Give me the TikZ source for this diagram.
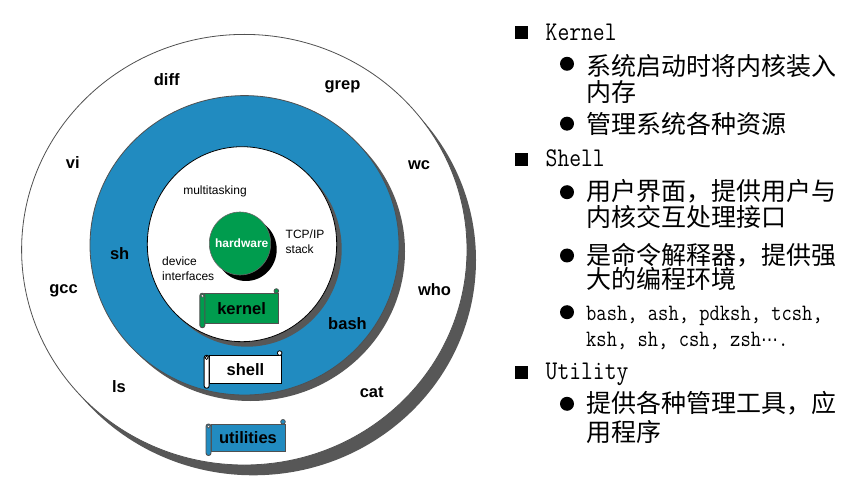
\documentclass[tikz,border=0pt]{standalone}
\usepackage{fontspec}
\usepackage{graphicx}
\setmainfont{Liberation Sans}
\newfontfamily\cjk{Noto Sans CJK SC}
\newfontfamily\symfont{DejaVu Sans}
\usetikzlibrary{calc}

\definecolor{ringblue}{RGB}{33,139,192}
\definecolor{hwgreen}{RGB}{0,156,78}
\definecolor{shadowgray}{RGB}{87,87,87}
\definecolor{edgegray}{RGB}{80,80,80}

% narrow typewriter face for the Latin words in the notes
\newcommand\notemono[1]{\ttfamily\fontsize{#1}{#1}\selectfont}
\newcommand\narrowtext[1]{\scalebox{0.85}[1]{#1}}

\tikzset{
  cmd/.style={font=\bfseries\fontsize{16.5}{18}\selectfont, inner sep=0pt, anchor=base},
  feature/.style={font=\fontsize{12}{14}\selectfont, inner sep=0pt, anchor=base west},
  sheet/.style={font=\bfseries\fontsize{16.5}{18}\selectfont, inner sep=0pt, outer sep=0pt,
                line width=0.9pt, text=black},
  head/.style={font=\notemono{27}, anchor=base west, inner sep=0pt},
  item/.style={font=\cjk\fontsize{25}{27}\selectfont, anchor=base west, inner sep=0pt},
  itemlatin/.style={font=\notemono{23.5}, anchor=base west, inner sep=0pt},
}

% a label on a small paper scroll: name, centre, width, height, paper colour, edge colour, text
\newcommand\scrollbanner[7]{%
  \node[sheet, fill=#5, draw=#6, minimum width=#3pt, minimum height=#4pt] (#1) at #2 {#7};
  \draw[fill=#5, draw=#6, line width=0.9pt, rounded corners=2.4pt]
    ($(#1.north west)+(-5,0)$) rectangle ($(#1.south west)+(0,4.5)$);
  \draw[fill=white, draw=#6, line width=0.7pt] ($(#1.north west)+(-2.5,2.6)$) circle[radius=1.6pt];
  \draw[fill=#5, draw=#6, line width=0.8pt] ($(#1.north east)+(-2,-2.2)$) circle[radius=2.3pt];
}

\begin{document}
\begin{tikzpicture}[x=1pt, y=-1pt]
\useasboundingbox (0,0) rectangle (867,486);

% utilities layer
\fill[shadowgray] (253.3,260) ellipse[x radius=222.7pt, y radius=215.3pt];
\draw[edgegray, fill=white, line width=0.8pt] (244.3,249.7) ellipse[x radius=222.7pt, y radius=215.3pt];

% shell layer
\fill[shadowgray] (250.5,251.3) ellipse[x radius=154.5pt, y radius=149.7pt];
\draw[edgegray, fill=ringblue, line width=0.8pt] (244.5,245.3) ellipse[x radius=154.5pt, y radius=149.7pt];

% kernel layer
\fill[shadowgray] (247,249.2) ellipse[x radius=94.7pt, y radius=97.5pt];
\draw[black, fill=white, line width=0.8pt] (242,244.2) ellipse[x radius=94.7pt, y radius=97.5pt];

% hardware core
\fill[black] (246,249.5) ellipse[x radius=30.7pt, y radius=31.5pt];
\draw[black!60, fill=hwgreen, line width=0.6pt] (240,243.5) ellipse[x radius=30.7pt, y radius=31.5pt];
\node[font=\bfseries\fontsize{12}{14}\selectfont, text=white, inner sep=0pt, anchor=base]
  (hardware) at (241.7,247.3) {hardware};

% kernel services
\node[feature, anchor=base] (multitasking) at (215,194.7) {multitasking};
\node[feature] (tcpip) at (285.5,238.3) {TCP/IP};
\node[feature] (stack) at (285.5,253.3) {stack};
\node[feature] (device) at (162,265.7) {device};
\node[feature] (interfaces) at (162,280.7) {interfaces};

% shells
\node[cmd] (sh) at (119.7,260) {sh};
\node[cmd] (bash) at (347.5,329.3) {bash};

% utility programs
\node[cmd] (diff) at (166.7,86) {diff};
\node[cmd] (grep) at (342.5,90) {grep};
\node[cmd] (vi) at (72.8,169) {vi};
\node[cmd] (wc) at (419,170) {wc};
\node[cmd] (gcc) at (63.5,293.3) {gcc};
\node[cmd] (who) at (434.5,295.3) {who};
\node[cmd] (ls) at (119,392.3) {ls};
\node[cmd] (cat) at (371.7,397.3) {cat};

% layer names
\scrollbanner{kernel}{(241.6,308.2)}{73.5}{30}{hwgreen}{edgegray}{kernel}
\scrollbanner{shell}{(245.4,369.5)}{72.5}{28.5}{white}{black}{shell}
\scrollbanner{utilities}{(248,437.5)}{74}{27}{ringblue}{edgegray}{utilities}

% notes
\fill (515,26) rectangle (528,39);
\node[head] (kernelhead) at (545.5,40.7) {\narrowtext{Kernel}};
\fill (567,63.8) circle[radius=7pt];
\node[item] (k1a) at (586,75.5) {系统启动时将内核装入};
\node[item] (k1b) at (586,101.8) {内存};
\fill (567,123.7) circle[radius=7pt];
\node[item] (k2) at (586,133.5) {管理系统各种资源};

\fill (515,153.5) rectangle (528,166.5);
\node[head] (shellhead) at (545.5,166.7) {\narrowtext{Shell}};
\fill (567,192.2) circle[radius=7pt];
\node[item] (s1a) at (586,201) {用户界面，提供用户与};
\node[item] (s1b) at (586,226.8) {内核交互处理接口};
\fill (567,255.5) circle[radius=7pt];
\node[item] (s2a) at (586,264.3) {是命令解释器，提供强};
\node[item] (s2b) at (586,288.5) {大的编程环境};
\fill (567,312.2) circle[radius=7pt];
\node[itemlatin] (s3a) at (586,320) {\narrowtext{bash, ash, pdksh, tcsh,}};
\node[itemlatin] (s3b) at (586,346.7)
  {\narrowtext{ksh, sh, csh, zsh{\symfont\fontsize{20}{20}\selectfont ⋯}.}};

\fill (515,366) rectangle (528,379);
\node[head] (utilhead) at (545.5,379.3) {\narrowtext{Utility}};
\fill (567,403.8) circle[radius=7pt];
\node[item] (u1a) at (586,412.6) {提供各种管理工具，应};
\node[item] (u1b) at (586,441) {用程序};
\end{tikzpicture}
\end{document}
